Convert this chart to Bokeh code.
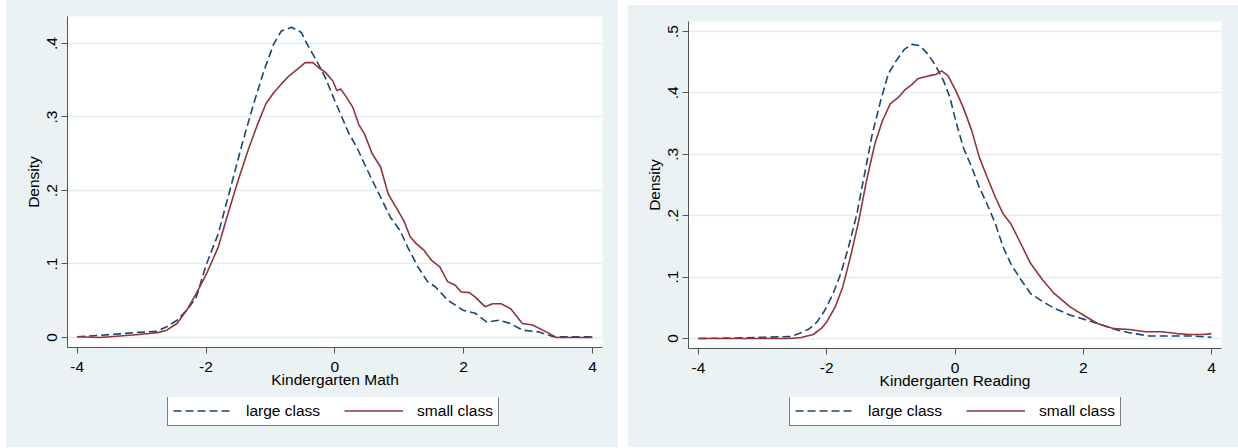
from bokeh.plotting import figure
from bokeh.layouts import row, column
from bokeh.models import FixedTicker, Legend, LegendItem
from bokeh.embed import file_html
from bokeh.resources import INLINE

# ---------------- data ----------------
series_names = ["large class", "small class"]

math_large_x = [-4.0, -3.65, -3.34, -3.04, -2.76, -2.61, -2.45, -2.30, -2.15, -2.0, -1.81, -1.63,
                -1.44, -1.26, -1.10, -0.95, -0.83, -0.67, -0.52, -0.43, -0.28, -0.15, 0.0, 0.09,
                0.21, 0.34, 0.46, 0.58, 0.71, 0.86, 1.01, 1.13, 1.29, 1.44, 1.56, 1.75, 1.99,
                2.18, 2.36, 2.55, 2.73, 2.91, 3.16, 3.40, 4.0]
math_large_y = [0.001, 0.003, 0.005, 0.007, 0.0086, 0.0145, 0.0235, 0.037, 0.055, 0.098, 0.141, 0.200,
                0.263, 0.318, 0.363, 0.399, 0.417, 0.422, 0.415, 0.399, 0.376, 0.354, 0.322, 0.304,
                0.279, 0.259, 0.236, 0.214, 0.191, 0.164, 0.146, 0.123, 0.096, 0.076, 0.069, 0.051, 0.037,
                0.033, 0.021, 0.0235, 0.019, 0.010, 0.0077, 0.001, 0.001]

math_small_x = [-4.0, -3.65, -3.34, -3.04, -2.73, -2.61, -2.45, -2.30, -2.15, -1.99, -1.81, -1.66,
                -1.50, -1.35, -1.20, -1.07, -0.95, -0.83, -0.71, -0.58, -0.46, -0.34, -0.25, -0.15,
                -0.03, 0.03, 0.09, 0.18, 0.28, 0.37, 0.46, 0.58, 0.71, 0.83, 0.95, 1.07, 1.17,
                1.26, 1.38, 1.50, 1.63, 1.75, 1.87, 1.96, 2.09, 2.18, 2.33, 2.45, 2.58, 2.73,
                2.91, 3.07, 3.28, 3.44, 4.0]
math_small_y = [0.001, 0.0, 0.002, 0.004, 0.007, 0.010, 0.019, 0.037, 0.060, 0.087, 0.123, 0.168,
                0.214, 0.254, 0.290, 0.318, 0.333, 0.345, 0.356, 0.365, 0.374, 0.374, 0.367, 0.361,
                0.349, 0.336, 0.338, 0.327, 0.313, 0.290, 0.277, 0.250, 0.232, 0.195, 0.177, 0.159, 0.137,
                0.128, 0.119, 0.105, 0.096, 0.076, 0.071, 0.062, 0.061, 0.055, 0.042, 0.046, 0.046, 0.039,
                0.019, 0.017, 0.0077, 0.0, 0.0]

read_large_x = [-4.0, -3.38, -2.58, -2.43, -2.27, -2.15, -2.03, -1.90, -1.78, -1.66, -1.53, -1.41,
                -1.29, -1.16, -1.04, -0.92, -0.79, -0.67, -0.55, -0.42, -0.30, -0.18, -0.08, 0.01,
                0.13, 0.26, 0.38, 0.50, 0.63, 0.75, 0.87, 1.00, 1.18, 1.37, 1.55, 1.80, 2.05,
                2.29, 2.54, 2.79, 3.03, 3.40, 3.71, 4.0]
read_large_y = [0.0, 0.001, 0.003, 0.008, 0.016, 0.027, 0.046, 0.073, 0.106, 0.149, 0.203, 0.268,
                0.333, 0.387, 0.431, 0.452, 0.471, 0.479, 0.477, 0.463, 0.444, 0.420, 0.393, 0.355,
                0.311, 0.279, 0.246, 0.219, 0.187, 0.149, 0.122, 0.100, 0.073, 0.060, 0.049, 0.038, 0.030,
                0.022, 0.0135, 0.008, 0.004, 0.004, 0.004, 0.002]

read_small_x = [-4.0, -2.58, -2.40, -2.21, -2.09, -2.0, -1.87, -1.75, -1.63, -1.50, -1.38, -1.25,
                -1.13, -1.01, -0.88, -0.79, -0.67, -0.58, -0.48, -0.36, -0.30, -0.21, -0.11, 0.01,
                0.13, 0.26, 0.38, 0.50, 0.63, 0.75, 0.87, 1.00, 1.18, 1.37, 1.55, 1.80, 2.05,
                2.23, 2.48, 2.72, 2.97, 3.22, 3.46, 3.65, 3.87, 4.0]
read_small_y = [0.0, 0.0, 0.0016, 0.0065, 0.016, 0.027, 0.051, 0.084, 0.133, 0.192, 0.257, 0.317,
                0.355, 0.382, 0.393, 0.404, 0.414, 0.423, 0.426, 0.429, 0.430, 0.436, 0.428, 0.404,
                0.376, 0.339, 0.295, 0.263, 0.230, 0.203, 0.187, 0.160, 0.122, 0.095, 0.073, 0.051, 0.035,
                0.024, 0.016, 0.0146, 0.011, 0.011, 0.008, 0.0065, 0.0065, 0.008]

x_ticks = [-4, -2, 0, 2, 4]
x_tick_labels = ["-4", "-2", "0", "2", "4"]
math_y_ticks = [0, 0.1, 0.2, 0.3, 0.4]
math_y_tick_labels = ["0", ".1", ".2", ".3", ".4"]
read_y_ticks = [0, 0.1, 0.2, 0.3, 0.4, 0.5]
read_y_tick_labels = ["0", ".1", ".2", ".3", ".4", ".5"]

# ---------------- style ----------------
BG = "#EAF2F3"
GRID = "#E3ECEF"
AXIS = "#555555"
NAVY = "#1A476F"
MAROON = "#90353B"
FONT = "Liberation Sans"
FS = "15.5px"
DASH = "8 4"
LW = 1.6


def make_chart(title, lx, ly, sx, sy, yticks, ylabels, x_range, y_range,
               width, height, mb_left, mb_right, mb_top, mb_bottom):
    p = figure(width=width, height=height, x_range=x_range, y_range=y_range,
               output_backend="svg", toolbar_location=None,
               min_border_left=mb_left, min_border_right=mb_right,
               min_border_top=mb_top, min_border_bottom=mb_bottom)
    p.border_fill_color = BG
    p.background_fill_color = "white"
    p.outline_line_color = None

    p.line(lx, ly, line_color=NAVY, line_width=LW, line_dash=DASH)
    p.line(sx, sy, line_color=MAROON, line_width=LW)

    p.xgrid.visible = False
    p.ygrid.grid_line_color = GRID
    p.ygrid.grid_line_width = 1.5

    xa = p.xaxis[0]
    xa.ticker = FixedTicker(ticks=x_ticks)
    xa.major_label_overrides = dict(zip(x_ticks, x_tick_labels))
    xa.axis_label = title
    xa.major_label_standoff = 8
    xa.axis_label_standoff = -4
    ya = p.yaxis[0]
    ya.ticker = FixedTicker(ticks=yticks)
    ya.major_label_overrides = dict(zip(yticks, ylabels))
    ya.axis_label = "Density"
    ya.major_label_orientation = "vertical"
    ya.major_label_standoff = 4
    ya.axis_label_standoff = 3
    for ax in (xa, ya):
        ax.minor_tick_line_color = None
        ax.axis_line_color = AXIS
        ax.major_tick_line_color = AXIS
        ax.major_tick_out = 6
        ax.major_tick_in = 0
        ax.major_label_text_font = FONT
        ax.major_label_text_font_size = FS
        ax.major_label_text_color = "black"
        ax.axis_label_text_font = FONT
        ax.axis_label_text_font_size = FS
        ax.axis_label_text_font_style = "normal"
        ax.axis_label_text_color = "black"
    return p


def make_legend_fig(width, height, loc, lx, ly, sx, sy):
    # legend strip below the chart; its lines lie outside the visible range,
    # only their legend glyphs are seen
    q = figure(width=width, height=height, x_range=(100, 101), y_range=(100, 101),
               output_backend="svg", toolbar_location=None,
               x_axis_type=None, y_axis_type=None,
               min_border_left=0, min_border_right=0, min_border_top=0, min_border_bottom=0)
    q.border_fill_color = BG
    q.background_fill_color = BG
    q.outline_line_color = None
    r1 = q.line(lx, ly, line_color=NAVY, line_width=LW, line_dash=DASH)
    r2 = q.line(sx, sy, line_color=MAROON, line_width=LW)
    legend = Legend(items=[LegendItem(label=series_names[0], renderers=[r1]),
                           LegendItem(label=series_names[1], renderers=[r2])],
                    orientation="horizontal", location=loc)
    legend.label_text_font = FONT
    legend.label_text_font_size = FS
    legend.label_text_color = "black"
    legend.glyph_width = 59
    legend.glyph_height = 19
    legend.label_height = 19
    legend.label_standoff = 14
    legend.spacing = 24
    legend.padding = 5
    legend.margin = 0
    legend.border_line_color = "black"
    legend.border_line_width = 1
    legend.background_fill_color = "white"
    legend.background_fill_alpha = 1
    q.add_layout(legend)
    return q


p1 = make_chart("Kindergarten Math", math_large_x, math_large_y, math_small_x, math_small_y,
                math_y_ticks, math_y_tick_labels, (-4.15, 4.155), (-0.0136, 0.4367),
                width=612, height=397, mb_left=61, mb_right=16, mb_top=16, mb_bottom=50)
l1 = make_legend_fig(612, 50, (100, 21), math_large_x, math_large_y, math_small_x, math_small_y)

p2 = make_chart("Kindergarten Reading", read_large_x, read_large_y, read_small_x, read_small_y,
                read_y_ticks, read_y_tick_labels, (-4.156, 4.156), (-0.0163, 0.5163),
                width=610, height=392, mb_left=60, mb_right=17, mb_top=16, mb_bottom=49)
l2 = make_legend_fig(610, 50, (101, 21), read_large_x, read_large_y, read_small_x, read_small_y)

left = column(p1, l1, spacing=0, margin=(0, 0, 0, 6), styles={"background-color": BG})
right = column(p2, l2, spacing=0, margin=(5, 0, 0, 0), styles={"background-color": BG})
layout = row(left, right, spacing=10)
open("out.html", "w").write(file_html(layout, INLINE))
